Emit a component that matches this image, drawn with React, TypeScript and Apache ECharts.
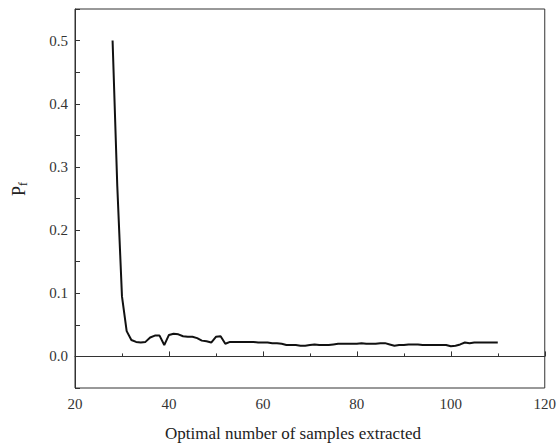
import React, { useEffect, useRef } from "react";
import * as echarts from "echarts";

const sampleCounts: number[] = [
  28, 29, 30, 31, 32, 33, 34, 35, 36, 37, 38, 39, 40, 41, 42, 43, 44, 45, 46, 47, 48, 49,
  50, 51, 52, 53, 54, 55, 56, 57, 58, 59, 60, 61, 62, 63, 64, 65, 66, 67, 68, 69,
  70, 71, 72, 73, 74, 75, 76, 77, 78, 79, 80, 81, 82, 83, 84, 85, 86, 87, 88, 89,
  90, 91, 92, 93, 94, 95, 96, 97, 98, 99, 100, 101, 102, 103, 104, 105, 106, 107, 108, 109, 110,
];

const pfValues: number[] = [
  0.5, 0.27, 0.095, 0.04, 0.026, 0.023, 0.022, 0.023, 0.03, 0.033, 0.033, 0.018, 0.034, 0.036, 0.035, 0.032, 0.031, 0.031, 0.029, 0.025, 0.024, 0.022,
  0.031, 0.032, 0.02, 0.023, 0.023, 0.023, 0.023, 0.023, 0.023, 0.022, 0.022, 0.022, 0.021, 0.021, 0.02, 0.018, 0.018, 0.018, 0.017, 0.017,
  0.018, 0.019, 0.018, 0.018, 0.018, 0.019, 0.02, 0.02, 0.02, 0.02, 0.02, 0.021, 0.02, 0.02, 0.02, 0.021, 0.021, 0.019, 0.017, 0.018,
  0.018, 0.019, 0.019, 0.019, 0.018, 0.018, 0.018, 0.018, 0.018, 0.018, 0.016, 0.017, 0.019, 0.022, 0.021, 0.022, 0.022, 0.022, 0.022, 0.022, 0.022,
];

const xTitle = "Optimal number of samples extracted";
const yTitleMain = "P";
const yTitleSub = "f";

const FONT = "Liberation Serif";

export default function App() {
  const ref = useRef<HTMLDivElement>(null);
  useEffect(() => {
    if (!ref.current) return;
    const chart = echarts.init(ref.current, undefined, { renderer: "svg" });
    const data = sampleCounts.map((x, i) => [x, pfValues[i]]);
    chart.setOption({
      animation: false,
      backgroundColor: "#fff",
      textStyle: { fontFamily: FONT },
      grid: {
        left: 75,
        top: 9,
        right: 12,
        bottom: 58,
        show: true,
        borderColor: "#333",
        borderWidth: 1,
      },
      xAxis: {
        type: "value",
        min: 20,
        max: 120,
        interval: 20,
        axisLine: { show: true, lineStyle: { color: "#333", width: 1 } },
        axisTick: { show: true, inside: true, length: 5, lineStyle: { color: "#333" } },
        minorTick: { show: true, splitNumber: 2, length: 3, lineStyle: { color: "#333" } },
        splitLine: { show: false },
        axisLabel: { color: "#333", fontFamily: FONT, fontSize: 15, margin: 8 },
      },
      yAxis: {
        type: "value",
        min: -0.05,
        max: 0.55,
        interval: 0.05,
        axisLine: { show: true, lineStyle: { color: "#333", width: 1 } },
        axisTick: { show: true, inside: true, length: 5, lineStyle: { color: "#333" } },
        splitLine: { show: false },
        axisLabel: {
          color: "#333",
          fontFamily: FONT,
          fontSize: 15,
          margin: 7,
          formatter: (v: number) => {
            const k = Math.round(v * 100);
            if (k < 0 || k > 50 || k % 10 !== 0) return "";
            return (k / 100).toFixed(1);
          },
        },
      },
      graphic: [
        {
          type: "text",
          x: 293,
          y: 433,
          style: {
            text: xTitle,
            fontFamily: FONT,
            fontSize: 17,
            fill: "#222",
            textAlign: "center",
            textVerticalAlign: "middle",
          },
        },
        {
          type: "text",
          x: 19,
          y: 189,
          rotation: Math.PI / 2,
          style: {
            text: `{a|${yTitleMain}}{b|${yTitleSub}}`,
            textAlign: "center",
            textVerticalAlign: "middle",
            rich: {
              a: { fontFamily: FONT, fontSize: 18, fill: "#222", color: "#222" },
              b: { fontFamily: FONT, fontSize: 12, fill: "#222", color: "#222", padding: [7, 0, 0, 0] },
            },
          },
        },
      ],
      series: [
        {
          type: "line",
          data,
          showSymbol: false,
          symbol: "none",
          lineStyle: { color: "#111", width: 2 },
        },
      ],
    });
    return () => chart.dispose();
  }, []);
  return (
    <div
      ref={ref}
      style={{ position: "fixed", left: 0, top: 0, width: 559, height: 446 }}
    />
  );
}
